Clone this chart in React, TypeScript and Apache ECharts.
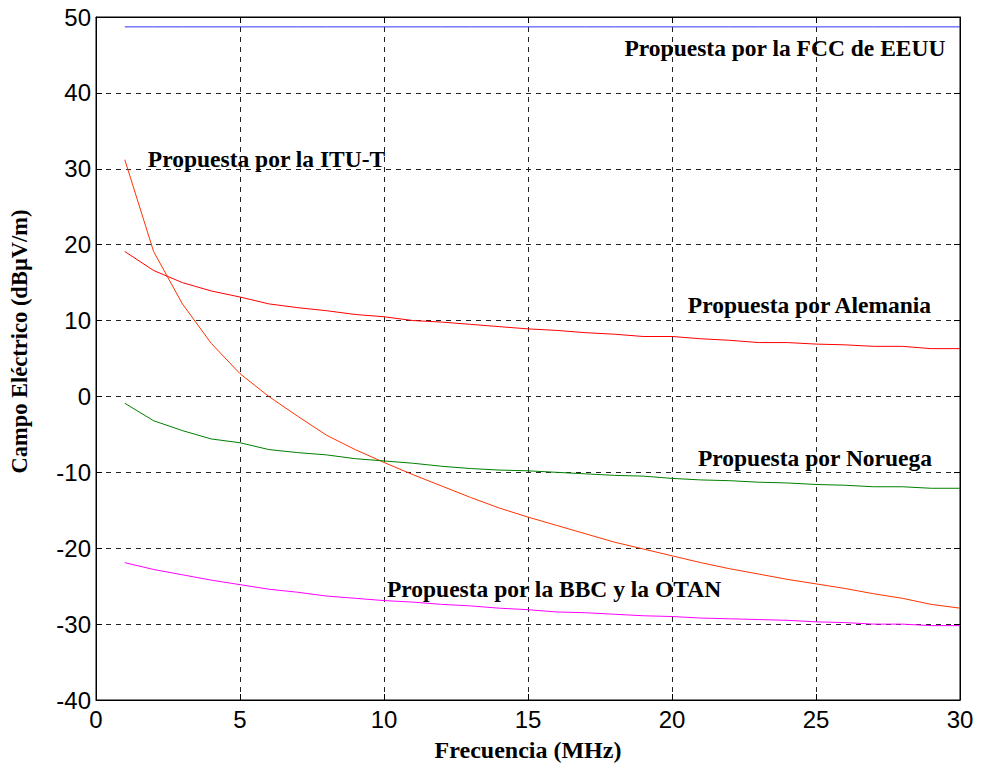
import React, { useEffect, useRef } from "react";
import * as echarts from "echarts";

const freqs = [1, 2, 3, 4, 5, 6, 7, 8, 9, 10, 11, 12, 13, 14, 15, 16, 17, 18, 19, 20, 21, 22, 23, 24, 25, 26, 27, 28, 29, 30];

const fcc = [48.7, 48.7, 48.7, 48.7, 48.7, 48.7, 48.7, 48.7, 48.7, 48.7, 48.7, 48.7, 48.7, 48.7, 48.7, 48.7, 48.7, 48.7, 48.7, 48.7, 48.7, 48.7, 48.7, 48.7, 48.7, 48.7, 48.7, 48.7, 48.7, 48.7];

const itu = [31.2, 19.1, 12.2, 7.0, 3.0, 0.0, -2.6, -5.1, -7.0, -8.7, -10.3, -11.8, -13.3, -14.7, -15.9, -17.0, -18.1, -19.2, -20.1, -21.0, -21.9, -22.7, -23.4, -24.1, -24.7, -25.3, -26.0, -26.6, -27.4, -27.9];

const alemania = [19.1, 16.6, 15.0, 13.9, 13.1, 12.2, 11.7, 11.3, 10.8, 10.5, 10.0, 9.8, 9.5, 9.2, 8.9, 8.7, 8.4, 8.2, 7.9, 7.9, 7.6, 7.4, 7.1, 7.1, 6.9, 6.8, 6.6, 6.6, 6.3, 6.3];

const noruega = [-0.9, -3.2, -4.5, -5.6, -6.1, -7.0, -7.4, -7.7, -8.2, -8.5, -8.8, -9.2, -9.5, -9.7, -9.8, -10.0, -10.2, -10.4, -10.5, -10.8, -11.0, -11.1, -11.3, -11.4, -11.6, -11.7, -11.9, -11.9, -12.1, -12.1];

const bbc = [-21.9, -22.8, -23.5, -24.2, -24.8, -25.4, -25.8, -26.3, -26.6, -26.9, -27.1, -27.4, -27.6, -27.9, -28.1, -28.4, -28.5, -28.7, -28.9, -29.0, -29.2, -29.3, -29.4, -29.5, -29.7, -29.8, -30.0, -30.0, -30.2, -30.2];

const seriesNames = ["FCC", "ITU-T", "Alemania", "Noruega", "BBC/OTAN"];
const seriesColors = ["#3333ff", "#ff3300", "#ff0000", "#008000", "#ff00ff"];

const annotationTexts = [
  "Propuesta por la FCC de EEUU",
  "Propuesta por la ITU-T",
  "Propuesta por Alemania",
  "Propuesta por Noruega",
  "Propuesta por la BBC y la OTAN",
];
const annotationCoords: [number, number][] = [
  [18.35, 45.9],
  [1.8, 31.25],
  [20.55, 12.0],
  [20.9, -8.1],
  [10.1, -25.4],
];

const xTitle = "Frecuencia (MHz)";
const yTitle = "Campo Eléctrico (dBµV/m)";

const serif = "'Liberation Serif', 'Times New Roman', serif";
const sans = "'Liberation Sans', Arial, sans-serif";

export default function App() {
  const ref = useRef<HTMLDivElement>(null);
  useEffect(() => {
    if (!ref.current) return;
    const chart = echarts.init(ref.current, null, { renderer: "svg" });
    const allData = [fcc, itu, alemania, noruega, bbc];
    const series = allData.map((vals, i) => ({
      name: seriesNames[i],
      type: "line",
      data: freqs.map((f, j) => [f, vals[j]]),
      showSymbol: false,
      symbol: "none",
      lineStyle: { color: seriesColors[i], width: 1 },
      itemStyle: { color: seriesColors[i] },
      z: 3,
      markPoint: {
        symbol: "circle",
        symbolSize: 0,
        silent: true,
        data: [
          {
            coord: annotationCoords[i],
            label: {
              show: true,
              position: "right",
              distance: 0,
              formatter: annotationTexts[i],
              color: "#000",
              fontFamily: serif,
              fontWeight: "bold",
              fontSize: 23.5,
            },
          },
        ],
      },
    }));
    const splitLine = {
      show: true,
      lineStyle: { color: "#222", type: [5, 5], width: 1 },
    };
    chart.setOption({
      animation: false,
      backgroundColor: "#fff",
      grid: {
        left: 95,
        right: 24,
        top: 17,
        bottom: 69,
        show: true,
        borderColor: "#000",
        borderWidth: 1,
        containLabel: false,
      },
      xAxis: [
        {
          type: "value",
          min: 0,
          max: 30,
          interval: 5,
          name: xTitle,
          nameLocation: "middle",
          nameGap: 38,
          nameTextStyle: { fontFamily: serif, fontWeight: "bold", fontSize: 24, color: "#000" },
          axisLine: { show: true, onZero: false, lineStyle: { color: "#000", width: 1 } },
          axisTick: { show: true, inside: true, length: 6, lineStyle: { color: "#000" } },
          axisLabel: { color: "#000", fontFamily: sans, fontSize: 24, margin: 7 },
          splitLine,
        },
        {
          type: "value",
          min: 0,
          max: 30,
          interval: 5,
          position: "top",
          axisLine: { show: true, onZero: false, lineStyle: { color: "#000", width: 1 } },
          axisTick: { show: true, inside: true, length: 6, lineStyle: { color: "#000" } },
          axisLabel: { show: false },
          splitLine: { show: false },
        },
      ],
      yAxis: [
        {
          type: "value",
          min: -40,
          max: 50,
          interval: 10,
          name: yTitle,
          nameLocation: "middle",
          nameGap: 65,
          nameRotate: 90,
          nameTextStyle: {
            fontFamily: serif,
            fontWeight: "bold",
            fontSize: 22.5,
            color: "#000",
            padding: [0, 0, 0, 34],
          },
          axisLine: { show: true, onZero: false, lineStyle: { color: "#000", width: 1 } },
          axisTick: { show: true, inside: true, length: 6, lineStyle: { color: "#000" } },
          axisLabel: { color: "#000", fontFamily: sans, fontSize: 24, margin: 5 },
          splitLine,
        },
        {
          type: "value",
          min: -40,
          max: 50,
          interval: 10,
          position: "right",
          axisLine: { show: true, onZero: false, lineStyle: { color: "#000", width: 1 } },
          axisTick: { show: true, inside: true, length: 6, lineStyle: { color: "#000" } },
          axisLabel: { show: false },
          splitLine: { show: false },
        },
      ],
      series,
    });
    return () => chart.dispose();
  }, []);
  return (
    <div
      ref={ref}
      style={{ position: "absolute", left: 0, top: 0, width: 984, height: 769, background: "#fff" }}
    />
  );
}
